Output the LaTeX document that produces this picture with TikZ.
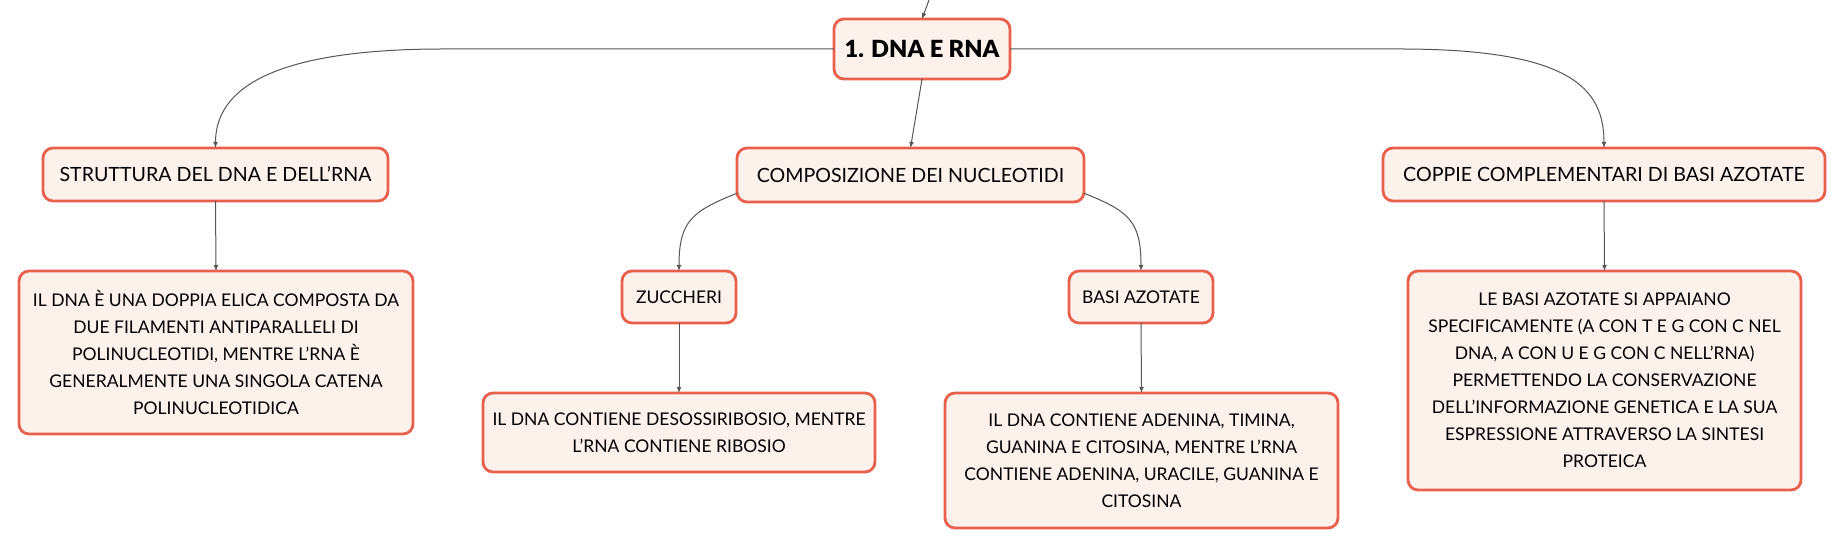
\documentclass[tikz,border=0pt]{standalone}
\usepackage{fontspec}
\setmainfont{Lato}
\IfFontExistsTF{Lato Black}{\newfontfamily\rootfont{Lato Black}}{\newcommand\rootfont{\bfseries}}
\usetikzlibrary{arrows.meta}
\definecolor{mapline}{HTML}{E8604C}
\definecolor{mapfill}{HTML}{FDF1EC}
\definecolor{linkgray}{HTML}{555555}
\begin{document}
\begin{tikzpicture}[x=0.5pt, y=-0.5pt]
\tikzset{ >={Latex[length=3pt,width=2.4pt]}, inner sep=0pt, outer sep=0pt,
  topic/.style={draw=mapline, fill=mapfill, line width=1.4pt, rounded corners=5pt,
    align=center, font=\fontsize{8.75}{13.5}\selectfont},
  head/.style={topic, font=\fontsize{9.8}{13.5}\selectfont},
  link/.style={->, draw=linkgray, line width=0.5pt} }

\useasboundingbox (0,0) rectangle (1845,549);

\node [topic, minimum width=88pt, minimum height=30pt,
  font=\fontsize{11.8}{14}\rootfont] (DNA) at (922,49) {1. DNA E RNA};

\node [head, minimum width=172.5pt, minimum height=26.5pt] (Strut) at (215.5,174.5) {STRUTTURA DEL DNA E DELL'RNA};
\node [head, minimum width=173.5pt, minimum height=27pt]   (Comp)  at (910.5,175)   {COMPOSIZIONE DEI NUCLEOTIDI};
\node [head, minimum width=221pt,   minimum height=26.5pt] (Coppie) at (1604,174.5) {COPPIE COMPLEMENTARI DI BASI AZOTATE};

\node [topic, minimum width=57pt, minimum height=26pt] (Zucc) at (679,297)  {ZUCCHERI};
\node [topic, minimum width=72pt, minimum height=26pt] (Basi) at (1141,297) {BASI AZOTATE};

\node [topic, minimum width=197pt, minimum height=81.5pt] (StrutTxt) at (216,352.5)
  {IL DNA È UNA DOPPIA ELICA COMPOSTA DA\\ DUE FILAMENTI ANTIPARALLELI DI\\
   POLINUCLEOTIDI, MENTRE L'RNA È\\ GENERALMENTE UNA SINGOLA CATENA\\ POLINUCLEOTIDICA};
\node [topic, minimum width=196pt, minimum height=39.5pt] (ZuccTxt) at (679,432.5)
  {IL DNA CONTIENE DESOSSIRIBOSIO, MENTRE\\ L'RNA CONTIENE RIBOSIO};
\node [topic, minimum width=196.5pt, minimum height=67.5pt] (BasiTxt) at (1141.5,460.5)
  {IL DNA CONTIENE ADENINA, TIMINA,\\ GUANINA E CITOSINA, MENTRE L'RNA\\
   CONTIENE ADENINA, URACILE, GUANINA E\\ CITOSINA};
\node [topic, minimum width=196.5pt, minimum height=109.5pt] (CoppieTxt) at (1604.5,380.5)
  {LE BASI AZOTATE SI APPAIANO\\ SPECIFICAMENTE (A CON T E G CON C NEL\\
   DNA, A CON U E G CON C NELL'RNA)\\ PERMETTENDO LA CONSERVAZIONE\\
   DELL'INFORMAZIONE GENETICA E LA SUA\\ ESPRESSIONE ATTRAVERSO LA SINTESI\\ PROTEICA};

\coordinate (Up) at (929,0);
\draw [link] (Up) -- (DNA.north);

\draw [link] (DNA.west) -- ++(-390,0) .. controls ++(-170,0) and ++(0,-60) .. (Strut.north);
\draw [link] (DNA.east) -- ++(390,0) .. controls ++(170,0) and ++(0,-60) .. (Coppie.north);
\draw [link] (DNA.south) -- (Comp.north);

\draw [link] (Comp.186) .. controls ++(-45,18) and ++(0,-50) .. (Zucc.north);
\draw [link] (Comp.354) .. controls ++(45,18) and ++(0,-50) .. (Basi.north);

\draw [link] (Strut.south)  -- (StrutTxt.north);
\draw [link] (Zucc.south)   -- (ZuccTxt.north);
\draw [link] (Basi.south)   -- (BasiTxt.north);
\draw [link] (Coppie.south) -- (CoppieTxt.north);
\end{tikzpicture}
\end{document}
